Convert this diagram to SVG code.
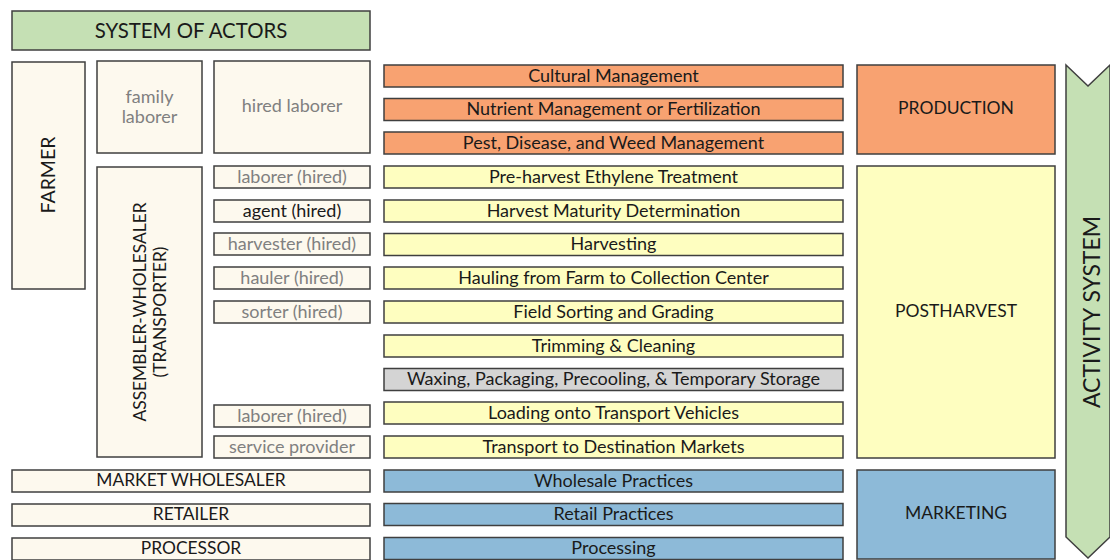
<svg xmlns="http://www.w3.org/2000/svg" width="1110" height="560" viewBox="0 0 1110 560">
<style>
rect{stroke:#3f3f3f;stroke-width:1.5}
text{font-family:Lato,"Open Sans","Liberation Sans",sans-serif;fill:#1a1a1a;text-anchor:middle;dominant-baseline:central}
.cr{fill:#fdf9ee}
.or{fill:#f8a271}
.ye{fill:#fefec0}
.gr{fill:#d4d4d4}
.bl{fill:#8dbad8}
.gn{fill:#c5e0b4}
.t16{font-size:18px}
.cap{font-size:17.4px}
.t17{font-size:17.5px}
.g{fill:#808080}
</style>
<rect width="1110" height="560" style="fill:#fff;stroke:none"/>
<g id="title"><rect class="gn" x="12" y="11" width="358" height="39"/><text x="191" y="29.5" font-size="20.4px">SYSTEM OF ACTORS</text></g>
<g id="farmer"><rect class="cr" x="12" y="62" width="73" height="227"/><text transform="translate(47,175) rotate(-90)" font-size="19.5px">FARMER</text></g>
<g id="family"><rect class="cr" x="97" y="61" width="105" height="92"/><text class="t16 g" x="149.5" y="95.5">family</text><text class="t16 g" x="149.5" y="115.5">laborer</text></g>
<g id="hired"><rect class="cr" x="214" y="61" width="156" height="92"/><text class="t16 g" x="292" y="104.5">hired laborer</text></g>
<g id="assembler"><rect class="cr" x="97" y="167" width="105" height="290"/><text transform="translate(139.5,312) rotate(-90)" class="cap">ASSEMBLER-WHOLESALER</text><text transform="translate(159.5,312) rotate(-90)" class="cap">(TRANSPORTER)</text></g>
<g id="a1"><rect class="cr" x="214" y="166" width="156" height="22"/><text class="t16 g" x="292" y="175.5">laborer (hired)</text></g>
<g id="a2"><rect class="cr" x="214" y="200" width="156" height="22"/><text class="t16" x="292" y="209.5">agent (hired)</text></g>
<g id="a3"><rect class="cr" x="214" y="233" width="156" height="22"/><text class="t16 g" x="292" y="242.5">harvester (hired)</text></g>
<g id="a4"><rect class="cr" x="214" y="267" width="156" height="22"/><text class="t16 g" x="292" y="276.5">hauler (hired)</text></g>
<g id="a5"><rect class="cr" x="214" y="301" width="156" height="22"/><text class="t16 g" x="292" y="310.5">sorter (hired)</text></g>
<g id="a6"><rect class="cr" x="214" y="405" width="156" height="22"/><text class="t16 g" x="292" y="414.5">laborer (hired)</text></g>
<g id="a7"><rect class="cr" x="214" y="436" width="156" height="22"/><text class="t16 g" x="292" y="445.5">service provider</text></g>
<g id="mw"><rect class="cr" x="12" y="470" width="358" height="22"/><text class="cap" x="191" y="479.5">MARKET WHOLESALER</text></g>
<g id="ret"><rect class="cr" x="12" y="504" width="358" height="22"/><text class="cap" x="191" y="513.5">RETAILER</text></g>
<g id="proc"><rect class="cr" x="12" y="538" width="358" height="22"/><text class="cap" x="191" y="547.5">PROCESSOR</text></g>
<g id="r1"><rect class="or" x="384" y="65" width="459" height="22"/><text class="t16" x="613.5" y="74.5">Cultural Management</text></g>
<g id="r2"><rect class="or" x="384" y="98.5" width="459" height="22"/><text class="t16" x="613.5" y="108">Nutrient Management or Fertilization</text></g>
<g id="r3"><rect class="or" x="384" y="132" width="459" height="22"/><text class="t16" x="613.5" y="141.5">Pest, Disease, and Weed Management</text></g>
<g id="r4"><rect class="ye" x="384" y="166" width="459" height="22"/><text class="t16" x="613.5" y="175.5">Pre-harvest Ethylene Treatment</text></g>
<g id="r5"><rect class="ye" x="384" y="200" width="459" height="22"/><text class="t16" x="613.5" y="209.5">Harvest Maturity Determination</text></g>
<g id="r6"><rect class="ye" x="384" y="233.5" width="459" height="22"/><text class="t16" x="613.5" y="243">Harvesting</text></g>
<g id="r7"><rect class="ye" x="384" y="267" width="459" height="22"/><text class="t16" x="613.5" y="276.5">Hauling from Farm to Collection Center</text></g>
<g id="r8"><rect class="ye" x="384" y="301" width="459" height="22"/><text class="t16" x="613.5" y="310.5">Field Sorting and Grading</text></g>
<g id="r9"><rect class="ye" x="384" y="335" width="459" height="22"/><text class="t16" x="613.5" y="344.5">Trimming &amp; Cleaning</text></g>
<g id="r10"><rect class="gr" x="384" y="368.5" width="459" height="22"/><text class="t16" x="613.5" y="378">Waxing, Packaging, Precooling, &amp; Temporary Storage</text></g>
<g id="r11"><rect class="ye" x="384" y="402" width="459" height="22"/><text class="t16" x="613.5" y="411.5">Loading onto Transport Vehicles</text></g>
<g id="r12"><rect class="ye" x="384" y="436" width="459" height="22"/><text class="t16" x="613.5" y="445.5">Transport to Destination Markets</text></g>
<g id="r13"><rect class="bl" x="384" y="470" width="459" height="22"/><text class="t16" x="613.5" y="479.5">Wholesale Practices</text></g>
<g id="r14"><rect class="bl" x="384" y="503.5" width="459" height="22"/><text class="t16" x="613.5" y="513">Retail Practices</text></g>
<g id="r15"><rect class="bl" x="384" y="537.5" width="459" height="22"/><text class="t16" x="613.5" y="547">Processing</text></g>
<g id="production"><rect class="or" x="857" y="65" width="198" height="89"/><text class="t17" x="956" y="107.5">PRODUCTION</text></g>
<g id="postharvest"><rect class="ye" x="857" y="166" width="198" height="292"/><text class="t17" x="956" y="310.5">POSTHARVEST</text></g>
<g id="marketing"><rect class="bl" x="857" y="470" width="198" height="89"/><text class="t17" x="956" y="512.5">MARKETING</text></g>
<g id="activity"><path d="M1066,65 L1088,86 L1110,65 L1110,537 L1088,558 L1066,537 Z" fill="#c5e0b4" stroke="#3f3f3f" stroke-width="1.5"/><text transform="translate(1091,312) rotate(-90)" font-size="23px">ACTIVITY SYSTEM</text></g>
<g id="connectors"></g>
</svg>
